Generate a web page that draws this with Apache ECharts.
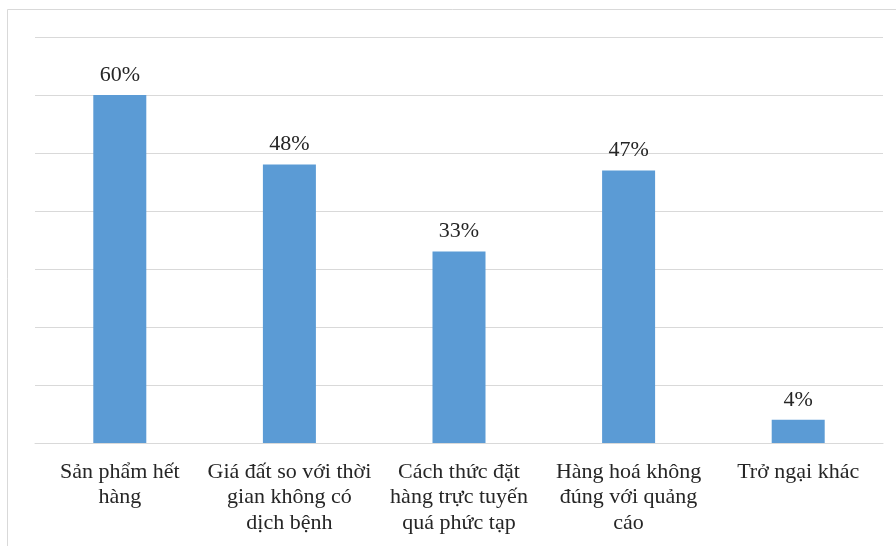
<!DOCTYPE html>
<html>
<head>
<meta charset="utf-8">
<script src="https://cdn.jsdelivr.net/npm/echarts@6/dist/echarts.min.js"></script>
<style>
html, body { margin: 0; padding: 0; background: #fff; }
#main { width: 896px; height: 546px; }
</style>
</head>
<body>
<div id="main"></div>
<script>
// danh mục và giá trị (%)
var categories = [
    'Sản phẩm hết\nhàng',
    'Giá đất so với thời\ngian không có\ndịch bệnh',
    'Cách thức đặt\nhàng trực tuyến\nquá phức tạp',
    'Hàng hoá không\nđúng với quảng\ncáo',
    'Trở ngại khác'
];
var values = [60, 48, 33, 47, 4];
var yTicks = [0, 10, 20, 30, 40, 50, 60, 70];

var myChart = echarts.init(document.getElementById('main'));
var option = {
    animation: false,
    backgroundColor: '#fff',
    textStyle: { fontFamily: 'Liberation Serif' },
    graphic: [{
        type: 'rect',
        shape: { x: 7.5, y: 9.5, width: 900, height: 560 },
        style: { fill: 'none', stroke: '#d9d9d9', lineWidth: 1 },
        silent: true
    }],
    grid: { left: 35, right: 13, top: 37, bottom: 103 },
    xAxis: {
        type: 'category',
        data: categories,
        axisLine: { lineStyle: { color: '#d9d9d9', width: 1 } },
        axisTick: { show: false },
        axisLabel: {
            interval: 0,
            margin: 16,
            color: '#262626',
            fontSize: 22,
            lineHeight: 25.5,
            fontFamily: 'Liberation Serif'
        }
    },
    yAxis: {
        type: 'value',
        min: yTicks[0],
        max: yTicks[yTicks.length - 1],
        interval: 10,
        axisLabel: { show: false },
        axisLine: { show: false },
        axisTick: { show: false },
        splitLine: { lineStyle: { color: '#d9d9d9', width: 1 } }
    },
    series: [{
        type: 'bar',
        data: values,
        barWidth: 53,
        itemStyle: { color: '#5b9bd5' },
        label: {
            show: true,
            position: 'top',
            distance: 9,
            formatter: '{c}%',
            color: '#262626',
            fontSize: 22,
            fontFamily: 'Liberation Serif'
        }
    }]
};
myChart.setOption(option);
</script>
</body>
</html>
